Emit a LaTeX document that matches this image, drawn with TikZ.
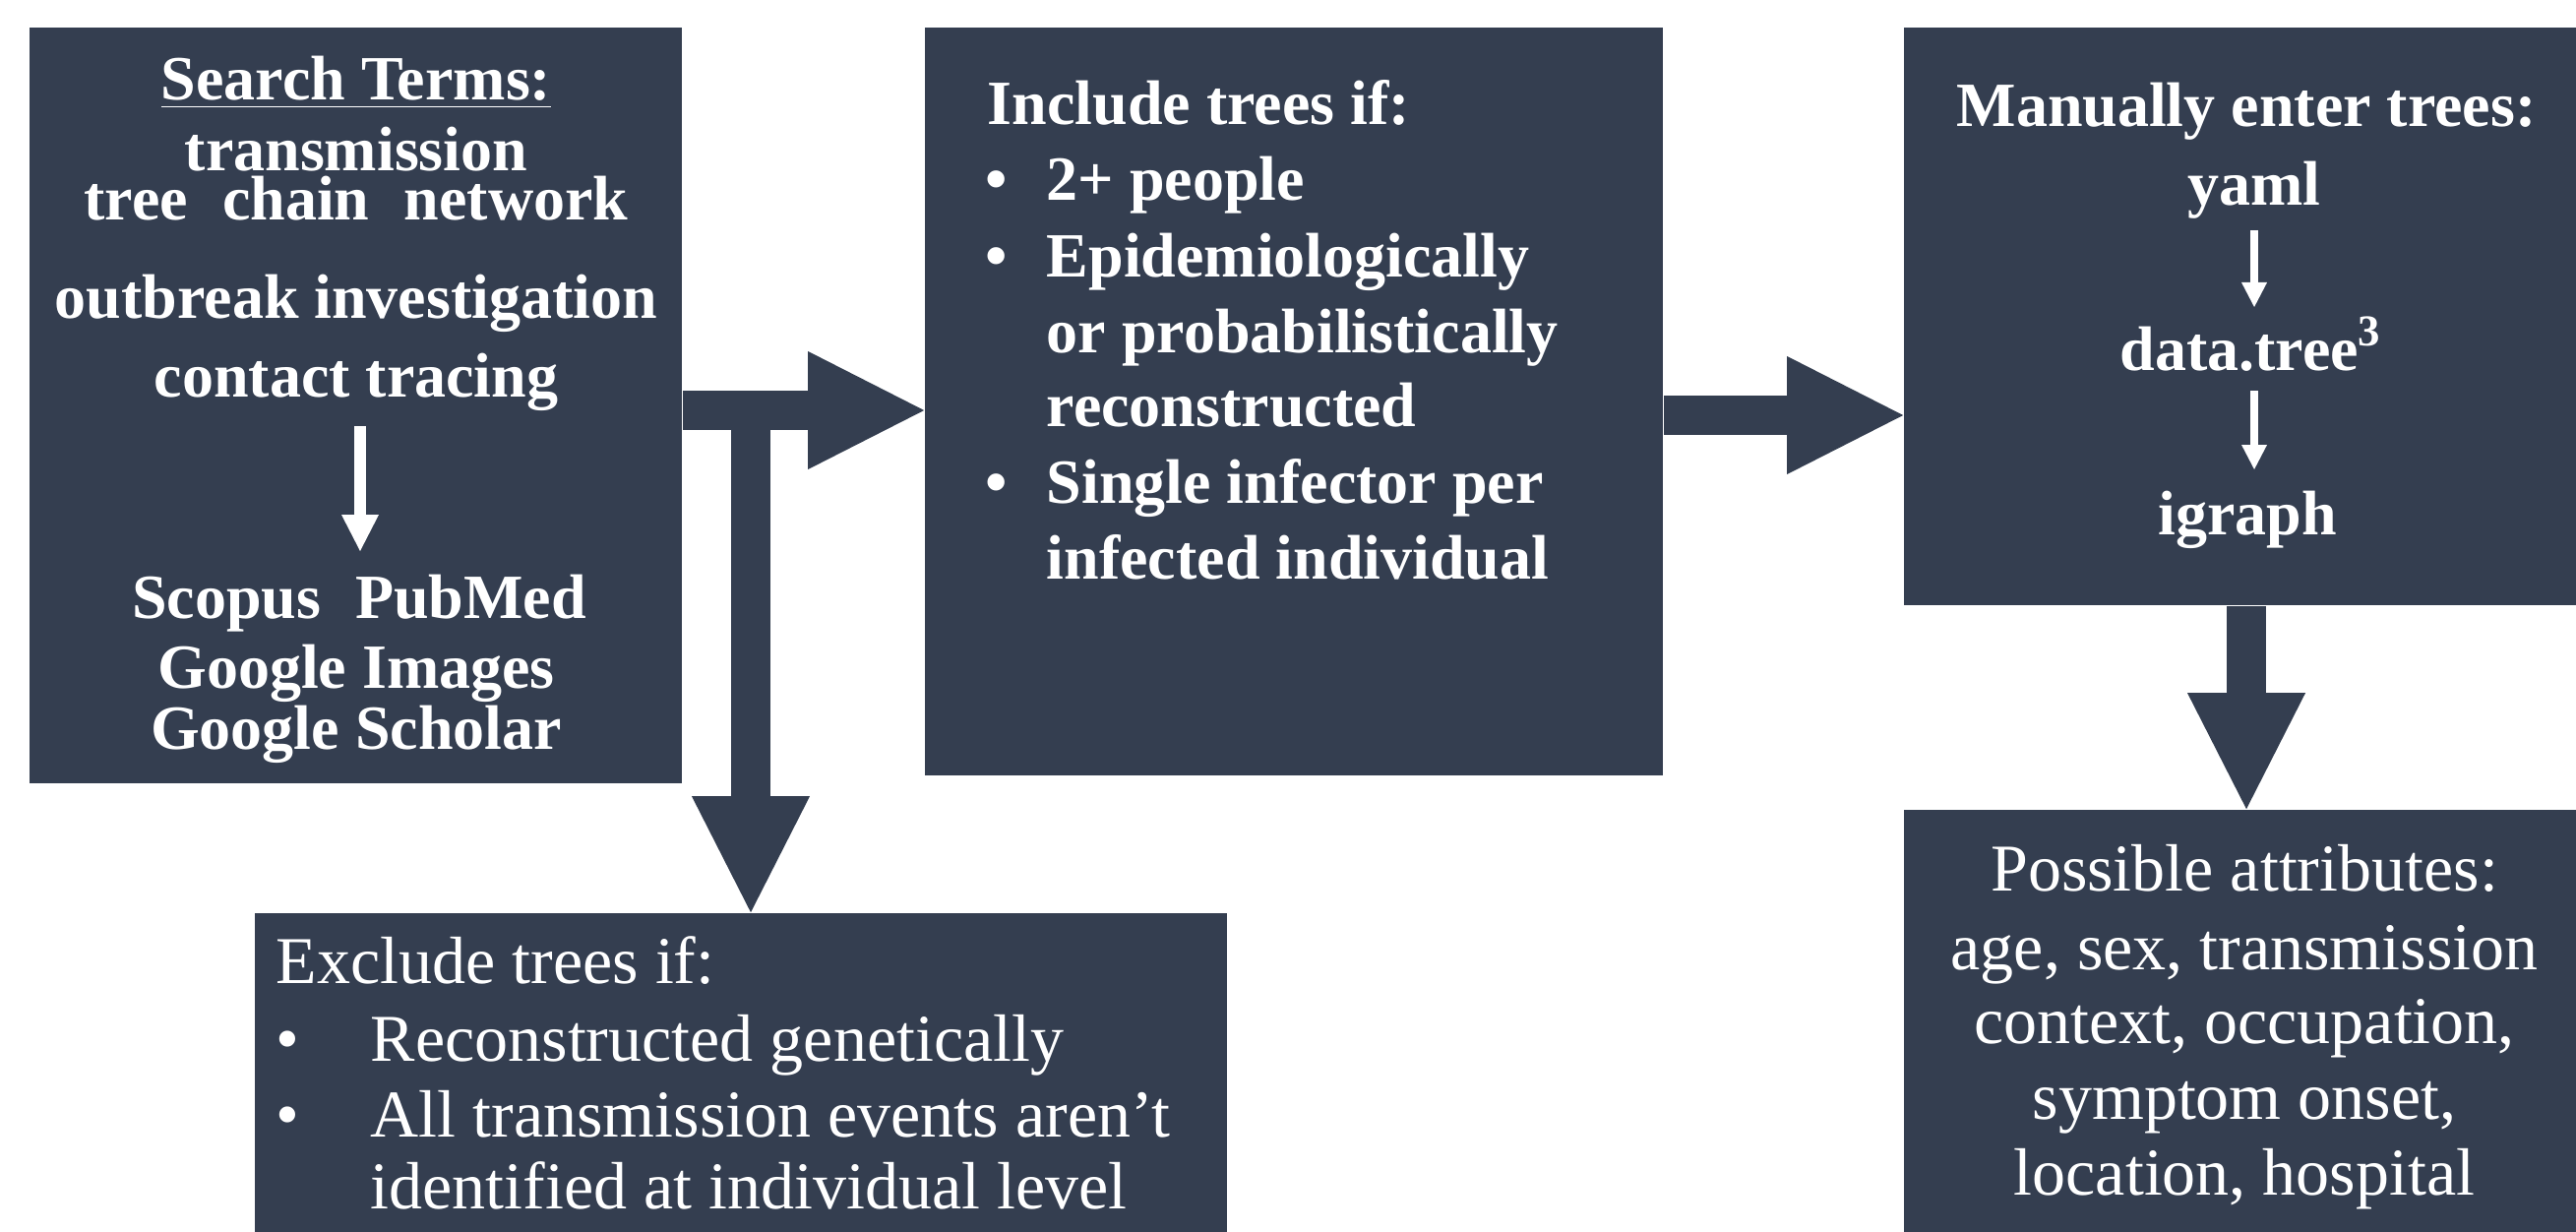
\documentclass[tikz,border=0pt]{standalone}
\usepackage{fontspec}
\setmainfont{Liberation Serif}
\usetikzlibrary{arrows.meta}
\definecolor{slate}{HTML}{343E50}
\begin{document}
\begin{tikzpicture}[x=0.25pt,y=-0.25pt,
  box/.style={fill=slate, draw=none, inner sep=0pt, rectangle},
  blockarrow/.style={draw=slate, line width=10pt, -{Triangle[length=29.5pt,width=30pt,line width=0pt]}},
  whitearrow/.style={draw=white, line width=3pt, -{Triangle[length=9.25pt,width=9.5pt,line width=0pt]}},
  thinarrow/.style={draw=white, line width=2pt, -{Triangle[length=6.25pt,width=6.5pt,line width=0pt]}},
  tb/.style={text=white, font=\fontsize{16}{19}\selectfont\bfseries, inner sep=0pt, anchor=base},
  tbl/.style={tb, anchor=base west},
  tr/.style={text=white, font=\fontsize{17}{20}\selectfont, inner sep=0pt, anchor=base},
  trl/.style={tr, anchor=base west},
]
\useasboundingbox (0,0) rectangle (2618,1251);
\clip (0,0) rectangle (2618,1251);
% boxes
\node[box, minimum width=165.75pt, minimum height=192pt] (b1) at (361.5,412) {};
\node[box, minimum width=187.5pt, minimum height=190pt] (b2) at (1315,408) {};
\node[box, minimum width=174pt, minimum height=146.75pt] (b3) at (2283,321.5) {};
\node[box, minimum width=247pt, minimum height=85.5pt] (b4) at (753,1099) {};
\node[box, minimum width=174pt, minimum height=111.75pt] (b5) at (2283,1046.5) {};
% block arrows
\coordinate (j) at (763,417);
\coordinate (k) at (1800,422);
\draw[blockarrow] (b1.east |- j) -- (b2.west |- j);
\draw[blockarrow] (j) -- (j |- b4.north);
\draw[blockarrow] (b2.east |- k) -- (b3.west |- k);
\draw[blockarrow] (b3.south) -- (b5.north);
% box 1 text
\node[tb] (t1) at (362,102) {\underline{Search Terms:}};
\node[tb, align=center, font=\fontsize{16}{12.5}\selectfont\bfseries] (t2) at (362,224) {transmission\\tree\hspace{0.55em}chain\hspace{0.55em}network};
\node[tb] (t4) at (362,324) {outbreak investigation};
\node[tb] (t5) at (362,403) {contact tracing};
\node[tb] (t6) at (365,628) {Scopus\hspace{0.55em}PubMed};
\node[tb] (t7) at (362,699) {Google Images};
\node[tb] (t8) at (362,761) {Google Scholar};
\coordinate (a1s) at (366,433);
\coordinate (a1e) at (366,560);
\draw[whitearrow] (a1s) -- (a1e);
% box 2 text
\node[tbl] (i0) at (1003,127) {Include trees if:};
\node[tb] (ib1) at (1013,204) {•};
\node[tbl] (i1) at (1063,204) {2+ people};
\node[tb] (ib2) at (1013,282) {•};
\node[tbl] (i2) at (1063,282) {Epidemiologically};
\node[tbl] (i3) at (1063,358) {or probabilistically};
\node[tbl] (i4) at (1063,433) {reconstructed};
\node[tb] (ib3) at (1013,511) {•};
\node[tbl] (i5) at (1063,511) {Single infector per};
\node[tbl] (i6) at (1063,588) {infected individual};
% box 3 text
\node[tb] (m0) at (2283,129) {Manually enter trees:};
\node[tb] (m1) at (2291,209) {yaml};
\node[tb] (m2) at (2288,377) {data.tree\textsuperscript{3}};
\node[tb] (m3) at (2284,543) {igraph};
\coordinate (m1s) at (2291,234);
\coordinate (m1e) at (2291,312);
\coordinate (m2s) at (2291,397);
\coordinate (m2e) at (2291,477);
\draw[thinarrow] (m1s) -- (m1e);
\draw[thinarrow] (m2s) -- (m2e);
% box 4 text
\node[trl] (e0) at (280,999) {Exclude trees if:};
\node[tr] (eb1) at (292,1078) {•};
\node[trl] (e1) at (376,1078) {Reconstructed genetically};
\node[tr] (eb2) at (292,1155) {•};
\node[trl] (e2) at (376,1155) {All transmission events aren’t};
\node[trl] (e3) at (376,1228) {identified at individual level};
% box 5 text
\node[tr] (p0) at (2281,905) {Possible attributes:};
\node[tr] (p1) at (2281,985) {age, sex, transmission};
\node[tr] (p2) at (2281,1060) {context, occupation,};
\node[tr] (p3) at (2281,1137) {symptom onset,};
\node[tr] (p4) at (2281,1214) {location, hospital};
\end{tikzpicture}
\end{document}
